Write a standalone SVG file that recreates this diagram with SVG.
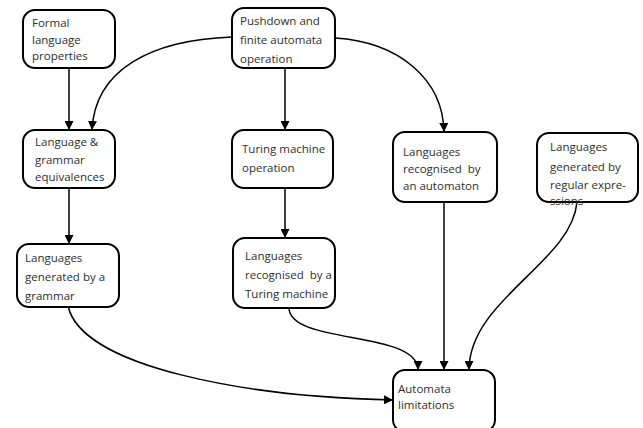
<svg xmlns="http://www.w3.org/2000/svg" width="643" height="428" viewBox="0 0 643 428">
<style>
.box{fill:#fff;stroke:#000;stroke-width:2}
.t{font-family:"Open Sans","Liberation Sans",sans-serif;font-size:11.5px;fill:#2e2e2e;white-space:pre}
.c{fill:none;stroke:#000;stroke-width:1.5}
</style>
<defs>
<marker id="ah" viewBox="0 0 10 10" refX="10" refY="5" markerWidth="9" markerHeight="9" markerUnits="userSpaceOnUse" orient="auto">
<path d="M0,0 L10,5 L0,10 z" fill="#000"/>
</marker>
</defs>
<rect width="643" height="428" fill="#fff"/>
<g id="connectors">
<path class="c" marker-end="url(#ah)" d="M69,68 L69,130"/>
<path class="c" marker-end="url(#ah)" d="M232,37 C150,40 95,70 92,130"/>
<path class="c" marker-end="url(#ah)" d="M285,68 L285,130"/>
<path class="c" marker-end="url(#ah)" d="M335,38 C400,42 443,80 444,132"/>
<path class="c" marker-end="url(#ah)" d="M69,188 L69,244"/>
<path class="c" marker-end="url(#ah)" d="M285,188 L285,238"/>
<path class="c" marker-end="url(#ah)" d="M68,306 C82,368 250,397 393,400"/>
<path class="c" marker-end="url(#ah)" d="M289,308 C290,345 418,330 418,370"/>
<path class="c" marker-end="url(#ah)" d="M444,202 L444,370"/>
<path class="c" marker-end="url(#ah)" d="M577,202 C572,262 469,300 469,370"/>
</g>
<g id="formal">
<rect class="box" x="23" y="10" width="92" height="58" rx="12"/>
<text class="t" x="32" y="27">Formal</text>
<text class="t" x="32" y="44">language</text>
<text class="t" x="32" y="60">properties</text>
</g>
<g id="pushdown">
<rect class="box" x="232" y="8" width="103" height="60" rx="12"/>
<text class="t" x="240" y="25">Pushdown and</text>
<text class="t" x="240" y="44">finite automata</text>
<text class="t" x="240" y="63">operation</text>
</g>
<g id="equivalences">
<rect class="box" x="23" y="130" width="92" height="58" rx="12"/>
<text class="t" x="35" y="146">Language &amp;</text>
<text class="t" x="35" y="164">grammar</text>
<text class="t" x="35" y="181">equivalences</text>
</g>
<g id="turing-op">
<rect class="box" x="232" y="130" width="101" height="58" rx="12"/>
<text class="t" x="242" y="153">Turing machine</text>
<text class="t" x="242" y="172">operation</text>
</g>
<g id="automaton">
<rect class="box" x="393" y="132" width="104" height="70" rx="12"/>
<text class="t" x="403" y="156">Languages</text>
<text class="t" x="403" y="173">recognised  by</text>
<text class="t" x="403" y="190">an automaton</text>
</g>
<g id="regular">
<rect class="box" x="537" y="133" width="101" height="69" rx="12"/>
<text class="t" x="550" y="151">Languages</text>
<text class="t" x="550" y="171">generated by</text>
<text class="t" x="550" y="189">regular expre-</text>
<text class="t" x="550" y="205">ssions</text>
</g>
<g id="grammar">
<rect class="box" x="17" y="244" width="102" height="63" rx="12"/>
<text class="t" x="25" y="262">Languages</text>
<text class="t" x="25" y="281">generated by a</text>
<text class="t" x="25" y="300">grammar</text>
</g>
<g id="turing-rec">
<rect class="box" x="233" y="238" width="102" height="70" rx="12"/>
<text class="t" x="245" y="260">Languages</text>
<text class="t" x="245" y="279">recognised  by a</text>
<text class="t" x="245" y="298">Turing machine</text>
</g>
<g id="limitations">
<rect class="box" x="393" y="370" width="102" height="62" rx="12"/>
<text class="t" x="398" y="393">Automata</text>
<text class="t" x="398" y="409">limitations</text>
</g>
</svg>
